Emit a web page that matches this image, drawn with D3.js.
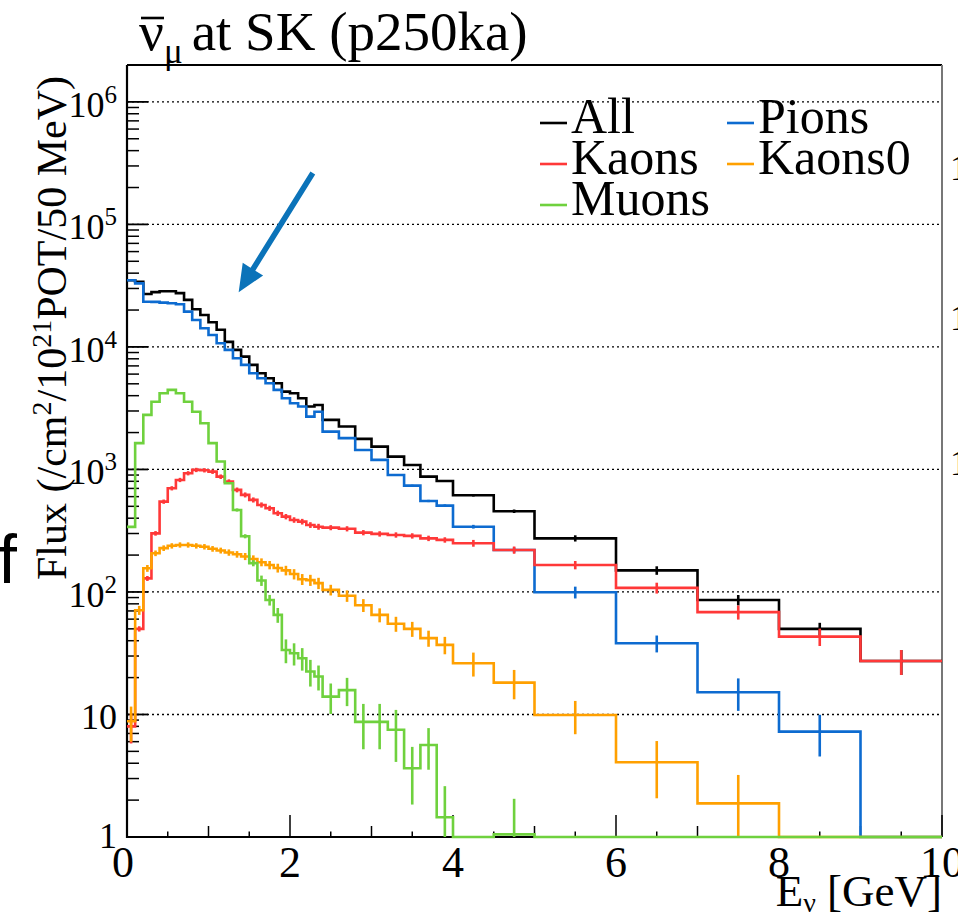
<!DOCTYPE html>
<html>
<head>
<meta charset="utf-8">
<script src="https://cdn.jsdelivr.net/npm/d3@7"></script>
<style>
  body { margin: 0; background: #fff; }
  svg { display: block; }
  text { font-family: "Liberation Serif", "Times New Roman", serif; fill: #000; }
</style>
</head>
<body>
<div id="chart"></div>
<script>
// variable binning, GeV
const binEdges = [0, 0.1, 0.2, 0.3, 0.4, 0.5, 0.6, 0.7, 0.8, 0.9, 1.0, 1.1, 1.2, 1.3, 1.4, 1.5, 1.6, 1.7, 1.8, 1.9,
  2.0, 2.1, 2.2, 2.3, 2.4, 2.6, 2.8, 3.0, 3.2, 3.4, 3.6, 3.8, 4.0, 4.5, 5, 6, 7, 8, 9, 10];

// flux per bin
const allFlux = [35000, 34000, 27000, 28000, 28500, 28500, 27500, 24200, 20300, 18200, 15900, 13800, 11000, 9460, 8340, 7130,
  6100, 5550, 5050, 4320, 4190, 3810, 3260, 3360, 2540, 2240, 1775, 1535, 1273, 1088, 873, 805, 615, 456, 274, 150, 86, 50, 27.3];
const pionFlux = [35000, 33000, 23400, 23300, 23000, 22700, 22300, 19400, 16600, 14200, 12500, 10700, 9460, 8090, 7130, 6100,
  5550, 5050, 4460, 3810, 3470, 3260, 2700, 2960, 2035, 1800, 1443, 1196, 902, 738, 553, 507, 341, 220, 99.5, 38.1, 15.2, 7.24, 0];
const kaonFlux = [8.0, 50, 129, 301, 546, 702, 821, 931, 991, 985, 959, 873, 795, 681, 620, 564,
  513, 482, 439, 412, 387, 375, 352, 341, 335, 328, 305, 298, 292, 287, 274, 266, 250, 220, 166, 108, 68.5, 43.2, 27.3];
const kaon0Flux = [8.8, 71, 156, 207, 228, 238, 242, 242, 238, 234, 225, 218, 210, 203, 195, 186,
  175, 166, 157, 150, 140, 127, 125, 118, 104, 93, 78, 65, 55, 50, 42, 37, 26.2, 18.2, 9.9, 4.07, 1.88, 0, 0];
const muonFlux = [340, 1640, 2790, 3570, 4190, 4460, 4190, 3570, 2960, 2380, 1640, 1160, 771, 467, 285, 172,
  124, 86, 65, 33.6, 31.6, 28.8, 22.4, 20.4, 14, 15.8, 8.7, 8.7, 7.5, 3.64, 5.64, 1.45, 0, 1.05, 0, 0, 0, 0, 0];

// error bar half-lengths
const allErr = [350, 340, 270, 280, 285, 285, 275, 242, 200, 182, 161, 138, 110, 95, 83, 71,
  61, 56, 50, 43, 42, 38, 33, 34, 25, 22, 18, 15, 15, 14, 13, 13, 14, 15, 16, 12, 8.4, 6, 6.3];
const pionErr = [350, 330, 234, 233, 230, 227, 223, 194, 166, 142, 125, 107, 95, 81, 71, 61,
  56, 50, 45, 38, 35, 33, 27, 30, 20, 18, 16, 14, 14, 13, 12, 12, 12, 11, 11, 6, 4.5, 2.7, 0];
const kaonErr = [2.2, 2.5, 6, 13, 22, 28, 33, 37, 40, 40, 40, 37, 35, 31, 29, 27,
  25, 24, 22, 21, 20, 20, 19, 19, 16, 16, 15, 15, 14.6, 14.4, 14, 13.5, 16, 15, 13, 11, 9, 7, 6.3];
const kaon0Err = [2.8, 6, 10, 11, 12, 12, 12, 12, 12, 12, 12, 12, 12.5, 12.5, 13, 13,
  13, 13, 13, 13.5, 13.5, 13, 13, 12.5, 10.4, 10, 9.4, 8.5, 7.7, 7, 6.3, 6, 5.8, 4.9, 3, 2, 1.33, 0, 0];
const muonErr = [4, 16, 25, 30, 35, 37, 35, 30, 26, 22, 16, 12, 9, 14, 11, 10,
  12, 8.6, 9, 7.4, 6.5, 6, 5.5, 4.7, 3.9, 4.1, 3.5, 3.5, 3.4, 1.8, 2.1, 1.15, 0, 1.0, 0, 0, 0, 0, 0];

const seriesNames = ["All", "Pions", "Kaons", "Kaons0", "Muons"];
const seriesColors = ["#000000", "#0d6bd0", "#ff3838", "#ffa000", "#6fd13e"];
const seriesValues = [allFlux, pionFlux, kaonFlux, kaon0Flux, muonFlux];
const seriesErrors = [allErr, pionErr, kaonErr, kaon0Err, muonErr];

const xTickLabels = [0, 2, 4, 6, 8, 10];
const yDecades = [1, 10, 100, 1000, 10000, 100000, 1000000];

const W = 958, H = 922;
const frame = { left: 127, right: 942, top: 65, bottom: 837 };

const svg = d3.select("#chart").append("svg")
  .attr("width", W).attr("height", H);

const x = d3.scaleLinear().domain([0, 10]).range([frame.left, frame.right]);
const y = d3.scaleLog().domain([1, 2e6]).range([frame.bottom, frame.top]);
const yc = v => y(Math.max(v, 1));

// clip for histograms
svg.append("clipPath").attr("id", "plotclip")
  .append("rect")
  .attr("x", frame.left).attr("y", frame.top - 2)
  .attr("width", frame.right - frame.left + 2).attr("height", frame.bottom - frame.top + 4);

// dotted grid at decades
svg.append("g").selectAll("line")
  .data(yDecades.filter(d => d > 1))
  .join("line")
  .attr("x1", frame.left).attr("x2", frame.right)
  .attr("y1", d => y(d)).attr("y2", d => y(d))
  .attr("stroke", "#000").attr("stroke-width", 1.3)
  .attr("stroke-dasharray", "2,3");

// frame
svg.append("line").attr("x1", frame.left).attr("x2", frame.right).attr("y1", frame.top).attr("y2", frame.top)
  .attr("stroke", "#000").attr("stroke-width", 2);
svg.append("line").attr("x1", frame.right).attr("x2", frame.right).attr("y1", frame.top).attr("y2", frame.bottom)
  .attr("stroke", "#777").attr("stroke-width", 2);
svg.append("line").attr("x1", frame.left).attr("x2", frame.left).attr("y1", frame.top).attr("y2", frame.bottom + 1)
  .attr("stroke", "#000").attr("stroke-width", 2.2);
svg.append("line").attr("x1", frame.left - 1).attr("x2", frame.right).attr("y1", frame.bottom).attr("y2", frame.bottom)
  .attr("stroke", "#000").attr("stroke-width", 2.2);

// y ticks
const yMinor = [];
yDecades.forEach(d => { for (let k = 2; k <= 9; k++) if (d * k <= 2e6) yMinor.push(d * k); });
svg.append("g").selectAll("line").data(yMinor).join("line")
  .attr("x1", frame.left).attr("x2", frame.left + 12)
  .attr("y1", d => y(d)).attr("y2", d => y(d))
  .attr("stroke", "#000").attr("stroke-width", 1.5);
svg.append("g").selectAll("line").data(yDecades).join("line")
  .attr("x1", frame.left).attr("x2", frame.left + 21)
  .attr("y1", d => y(d)).attr("y2", d => y(d))
  .attr("stroke", "#000").attr("stroke-width", 1.8);

// x ticks (three levels)
const xTicks = d3.range(0, 10.01, 0.5);
svg.append("g").selectAll("line").data(xTicks).join("line")
  .attr("x1", d => x(d)).attr("x2", d => x(d))
  .attr("y1", frame.bottom)
  .attr("y2", d => frame.bottom - (Math.abs(d % 2) < 1e-6 ? 22 : Math.abs(d % 1) < 1e-6 ? 11 : 5.5))
  .attr("stroke", "#000").attr("stroke-width", 1.5);

// y tick labels
const yLab = svg.append("g");
yDecades.forEach(d => {
  const e = Math.round(Math.log10(d));
  const t = yLab.append("text")
    .attr("x", 117).attr("y", y(d) + (e === 0 ? 11 : 15))
    .attr("text-anchor", "end")
    .style("font-size", "36px");
  if (e === 0) t.text("1");
  else if (e === 1) t.text("10");
  else {
    t.append("tspan").text("10");
    t.append("tspan").attr("dy", -14).style("font-size", "25px").text(e);
  }
});

// x tick labels
svg.append("g").selectAll("text").data(xTickLabels).join("text")
  .attr("x", d => x(d) - (d === 0 ? 4 : 0)).attr("y", 877)
  .attr("text-anchor", "middle")
  .style("font-size", "44px")
  .text(d => d);

// histograms
const hist = svg.append("g").attr("clip-path", "url(#plotclip)");
seriesValues.forEach((vals, s) => {
  let p = `M${x(binEdges[0])},${yc(vals[0])}`;
  vals.forEach((v, i) => { p += `V${yc(v)}H${x(binEdges[i + 1])}`; });
  hist.append("path")
    .attr("d", p)
    .attr("fill", "none")
    .attr("stroke", seriesColors[s])
    .attr("stroke-width", 2.6);
  const errs = seriesErrors[s];
  hist.append("g").selectAll("line")
    .data(vals.map((v, i) => ({ v, e: errs[i], c: (binEdges[i] + binEdges[i + 1]) / 2 })).filter(d => d.v > 0 && d.e > 0))
    .join("line")
    .attr("x1", d => x(d.c)).attr("x2", d => x(d.c))
    .attr("y1", d => yc(d.v - d.e)).attr("y2", d => y(d.v + d.e))
    .attr("stroke", seriesColors[s])
    .attr("stroke-width", 2.6);
});

// legend
const leg = svg.append("g");
seriesNames.forEach((name, i) => {
  const col = i % 2, row = Math.floor(i / 2);
  const lx = 540 + col * 187, ly = 133 + row * 41;
  leg.append("line")
    .attr("x1", lx).attr("x2", lx + 27)
    .attr("y1", ly - 10).attr("y2", ly - 10)
    .attr("stroke", seriesColors[i]).attr("stroke-width", 2.6);
  leg.append("text")
    .attr("x", lx + 31).attr("y", ly)
    .style("font-size", "50px")
    .text(name);
});

// title
const title = svg.append("text").attr("x", 139).attr("y", 50).style("font-size", "55px");
title.append("tspan").text("ν");
title.append("tspan").attr("dy", 13).style("font-size", "35px").text("μ");
title.append("tspan").attr("dy", -13).attr("dx", 9).text("at SK (p250ka)");
svg.append("line").attr("x1", 141).attr("x2", 164).attr("y1", 18).attr("y2", 18)
  .attr("stroke", "#000").attr("stroke-width", 2.6);

// y-axis title
const yt = svg.append("text")
  .attr("transform", `translate(66,${frame.top + 11}) rotate(-90)`)
  .attr("text-anchor", "end")
  .style("font-size", "42px");
yt.append("tspan").text("Flux (/cm");
yt.append("tspan").attr("dy", -15).style("font-size", "28px").text("2");
yt.append("tspan").attr("dy", 15).text("/10");
yt.append("tspan").attr("dy", -15).style("font-size", "28px").text("21");
yt.append("tspan").attr("dy", 15).text("POT/50 MeV)");

// x-axis title
const xt = svg.append("text")
  .attr("x", frame.right).attr("y", 906)
  .attr("text-anchor", "end")
  .style("font-size", "45px");
xt.append("tspan").text("E");
xt.append("tspan").attr("dy", 6).style("font-size", "28px").text("ν");
xt.append("tspan").attr("dy", -6).text(" [GeV]");

// arrow annotation (data coords)
const arrowFrom = { e: 2.28, v: 2.63e5 }, arrowTo = { e: 1.37, v: 2.8e4 };
{
  const x0 = x(arrowFrom.e), y0 = y(arrowFrom.v), x1 = x(arrowTo.e), y1 = y(arrowTo.v);
  const len = Math.hypot(x1 - x0, y1 - y0), ux = (x1 - x0) / len, uy = (y1 - y0) / len;
  const nx = -uy, ny = ux, head = 27, hw = 12, sw = 2.8;
  const bx = x1 - ux * head, by = y1 - uy * head;
  const pts = [
    [x0 + nx * sw, y0 + ny * sw], [bx + nx * sw, by + ny * sw], [bx + nx * hw, by + ny * hw],
    [x1, y1], [bx - nx * hw, by - ny * hw], [bx - nx * sw, by - ny * sw], [x0 - nx * sw, y0 - ny * sw]
  ];
  svg.append("path").attr("d", d3.line()(pts) + "Z").attr("fill", "#0b73b9");
}

// fragments of neighbouring panels at the page edges
svg.append("text").attr("x", -2).attr("y", 583)
  .style("font-family", "'Liberation Sans', sans-serif").style("font-size", "68px").text("f");
[180, 330, 475].forEach(yy => {
  svg.append("text").attr("x", 950).attr("y", yy).style("font-size", "36px").text("1");
});
</script>
</body>
</html>
